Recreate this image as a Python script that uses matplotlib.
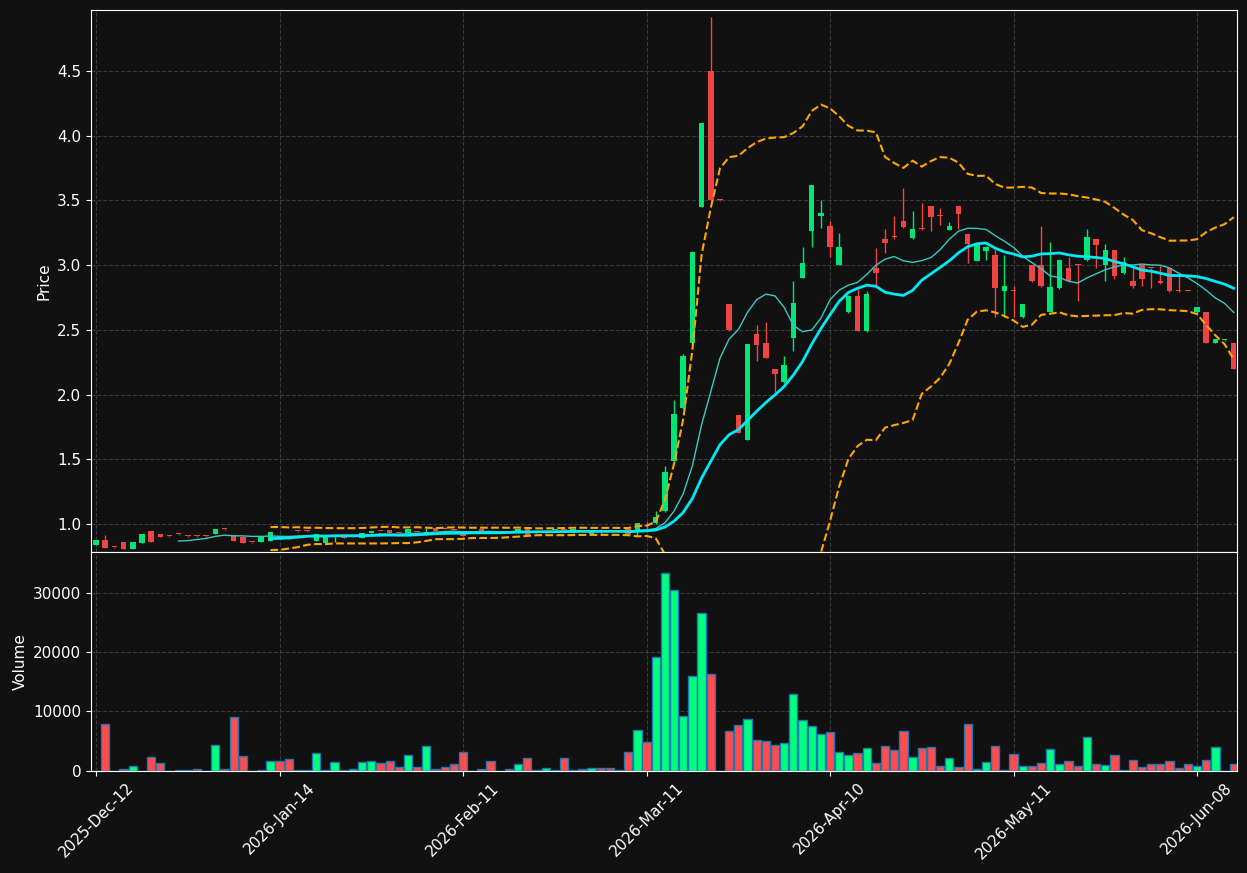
import matplotlib
matplotlib.use('Agg')
import matplotlib.pyplot as plt
import numpy as np
import pandas as pd

# daily OHLCV, one entry per trading bar (index 0..124)
opens = [0.84, 0.876, 0.821, 0.861, 0.807, 0.856, 0.946, 0.923, 0.906, 0.921,
         0.906, 0.906, 0.906, 0.923, 0.96, 0.91, 0.9, 0.859, 0.863, 0.871,
         0.905, 0.9, 0.944, 0.944, 0.871, 0.856, 0.897, 0.896, 0.9, 0.892,
         0.928, 0.947, 0.954, 0.936, 0.928, 0.941, 0.915, 0.97, 0.961, 0.956,
         0.935, 0.94, 0.961, 0.946, 0.94, 0.946, 0.928, 0.961, 0.935, 0.93,
         0.955, 0.963, 0.933, 0.955, 0.925, 0.942, 0.946, 0.94, 0.961, 0.95,
         0.995, 1.008, 1.1, 1.486, 1.9, 2.396, 3.452, 4.503, 3.505, 2.7,
         1.84, 1.65, 2.466, 2.4, 2.2, 2.098, 2.437, 2.9, 3.264, 3.38,
         3.306, 3.0, 2.636, 2.764, 2.495, 2.982, 3.205, 3.22, 3.341, 3.208,
         3.279, 3.456, 3.379, 3.274, 3.456, 3.244, 3.033, 3.11, 3.08, 2.797,
         2.802, 2.597, 3.0, 3.0, 2.641, 2.82, 2.977, 3.002, 3.038, 3.2,
         3.0, 3.115, 2.936, 2.879, 3.003, 2.979, 2.879, 2.982, 2.802, 2.802,
         2.636, 2.641, 2.397, 2.42, 2.4]
highs = [0.88, 0.915, 0.823, 0.862, 0.862, 0.924, 0.947, 0.924, 0.907, 0.922,
         0.907, 0.907, 0.907, 0.962, 0.961, 0.911, 0.901, 0.86, 0.908, 0.94,
         0.91, 0.905, 0.945, 0.945, 0.921, 0.901, 0.91, 0.897, 0.91, 0.932,
         0.947, 0.948, 0.956, 0.937, 0.961, 0.942, 0.97, 0.971, 0.975, 0.957,
         0.936, 0.941, 0.962, 0.947, 0.941, 0.947, 0.962, 0.962, 0.936, 0.94,
         0.956, 0.964, 0.962, 0.956, 0.954, 0.96, 0.947, 0.941, 0.962, 1.005,
         1.012, 1.1, 1.45, 1.955, 2.31, 3.11, 4.1, 4.92, 3.506, 2.702,
         1.842, 2.39, 2.54, 2.56, 2.2, 2.3, 2.878, 3.14, 3.623, 3.504,
         3.34, 3.245, 2.77, 2.815, 2.8, 3.136, 3.282, 3.38, 3.6, 3.418,
         3.477, 3.456, 3.44, 3.33, 3.456, 3.244, 3.162, 3.15, 3.123, 3.077,
         2.84, 2.7, 3.0, 3.303, 3.18, 3.041, 3.064, 3.013, 3.277, 3.2,
         3.16, 3.115, 3.064, 2.98, 3.008, 2.98, 3.0, 2.982, 2.944, 2.803,
         2.68, 2.642, 2.427, 2.421, 2.4]
lows = [0.835, 0.815, 0.817, 0.806, 0.806, 0.855, 0.86, 0.899, 0.903, 0.918,
        0.903, 0.903, 0.903, 0.922, 0.957, 0.87, 0.855, 0.856, 0.862, 0.87,
        0.89, 0.885, 0.941, 0.941, 0.87, 0.855, 0.86, 0.893, 0.898, 0.891,
        0.927, 0.944, 0.927, 0.933, 0.927, 0.938, 0.912, 0.944, 0.958, 0.953,
        0.909, 0.938, 0.944, 0.939, 0.938, 0.939, 0.927, 0.914, 0.933, 0.928,
        0.953, 0.954, 0.932, 0.944, 0.924, 0.915, 0.939, 0.938, 0.922, 0.91,
        0.96, 1.0, 1.09, 1.48, 1.89, 2.39, 3.45, 3.5, 3.499, 2.495,
        1.704, 1.648, 2.258, 2.28, 2.02, 2.09, 2.34, 2.9, 3.14, 3.284,
        3.066, 3.0, 2.63, 2.49, 2.48, 2.84, 3.097, 3.2, 3.29, 3.2,
        3.27, 3.264, 3.31, 3.27, 3.277, 3.015, 3.03, 3.04, 2.6, 2.597,
        2.6, 2.59, 2.87, 2.83, 2.64, 2.815, 2.87, 2.726, 3.03, 2.977,
        2.88, 2.895, 2.93, 2.82, 2.836, 2.826, 2.858, 2.795, 2.795, 2.797,
        2.63, 2.395, 2.395, 2.418, 2.195]
closes = [0.876, 0.817, 0.819, 0.807, 0.861, 0.923, 0.861, 0.9, 0.905, 0.92,
          0.905, 0.905, 0.905, 0.961, 0.959, 0.871, 0.856, 0.858, 0.907, 0.94,
          0.895, 0.89, 0.943, 0.943, 0.92, 0.9, 0.903, 0.895, 0.906, 0.931,
          0.946, 0.946, 0.928, 0.934, 0.96, 0.939, 0.936, 0.945, 0.959, 0.954,
          0.91, 0.94, 0.945, 0.94, 0.94, 0.94, 0.961, 0.915, 0.935, 0.937,
          0.955, 0.955, 0.961, 0.945, 0.953, 0.94, 0.94, 0.94, 0.923, 1.005,
          0.985, 1.058, 1.403, 1.852, 2.3, 3.104, 4.1, 3.5, 3.5, 2.497,
          1.706, 2.39, 2.383, 2.285, 2.16, 2.225, 2.705, 3.016, 3.623, 3.4,
          3.14, 3.14, 2.764, 2.495, 2.777, 2.936, 3.174, 3.218, 3.295, 3.277,
          3.277, 3.374, 3.377, 3.3, 3.397, 3.162, 3.162, 3.141, 2.82, 2.841,
          2.8, 2.7, 2.874, 2.836, 2.828, 3.041, 2.88, 3.0, 3.218, 3.156,
          3.115, 2.918, 3.023, 2.836, 2.897, 2.977, 2.859, 2.797, 2.8, 2.8,
          2.679, 2.397, 2.426, 2.42, 2.195]
volumes = [0, 7900, 0, 280, 790, 0, 2320, 1190, 0, 100,
           100, 280, 0, 4350, 280, 8980, 2490, 0, 100, 1640,
           1640, 1980, 100, 100, 2990, 100, 1470, 100, 280, 1470,
           1640, 1300, 1640, 620, 2660, 620, 4180, 280, 620, 1130,
           3160, 0, 280, 1640, 0, 280, 1130, 2150, 100, 450,
           100, 2150, 100, 280, 450, 450, 450, 100, 3160, 6890,
           4860, 19270, 33330, 30450, 9270, 16050, 26560, 16390, 0, 6720,
           7740, 8760, 5200, 5030, 4350, 4690, 13000, 8590, 7570, 6220,
           6550, 3160, 2660, 2990, 3840, 1300, 4180, 3500, 6720, 2260,
           3840, 4010, 790, 2090, 570, 7910, 280, 1470, 4180, 100,
           2830, 730, 730, 1300, 3670, 1130, 1640, 730, 5710, 1130,
           900, 2660, 100, 1810, 570, 1130, 1130, 1640, 450, 1130,
           790, 1810, 4010, 0, 1130]

tick_pos = [0, 20, 40, 60, 80, 100, 120]
tick_labels = ['2025-Dec-12', '2026-Jan-14', '2026-Feb-11', '2026-Mar-11',
               '2026-Apr-10', '2026-May-11', '2026-Jun-08']

BG = '#111111'
UP, DOWN = '#00e676', '#ef4444'
VUP, VDOWN = '#00ff7f', '#ff4d4d'

df = pd.DataFrame({'Open': opens, 'High': highs, 'Low': lows,
                   'Close': closes, 'Volume': volumes})
x = np.arange(len(df))
ma10 = df['Close'].rolling(10).mean()
ma20 = df['Close'].rolling(20).mean()
sd20 = df['Close'].rolling(20).std()
upper = ma20 + 2 * sd20
lower = ma20 - 2 * sd20

up = df['Close'] >= df['Open']

fig = plt.figure(figsize=(12.47, 8.73), dpi=100, facecolor=BG)
ax1 = fig.add_axes([0.073, 0.3677, 0.919, 0.6209])
ax2 = fig.add_axes([0.073, 0.1174, 0.919, 0.2503], sharex=ax1)

for ax in (ax1, ax2):
    ax.set_facecolor(BG)
    for s in ax.spines.values():
        s.set_color('white')
    ax.tick_params(colors='white', labelsize=11)
    ax.grid(True, color='#3a3a3a', linestyle='--', linewidth=0.8)
    ax.set_axisbelow(True)

# candles
body_col = np.where(up, UP, DOWN)
ax1.vlines(x, df['Low'], df['High'], colors=body_col, linewidth=1, zorder=2)
body_h = (df['Close'] - df['Open']).abs().clip(lower=0.008)
body_b = df[['Open', 'Close']].min(axis=1)
ax1.bar(x, body_h, bottom=body_b, width=0.6, color=body_col, zorder=3)

# moving averages and bands
ax1.plot(x, ma10, color='#3cc8c0', linewidth=1, zorder=4)
ax1.plot(x, ma20, color='#00eaf5', linewidth=2, zorder=4)
ax1.plot(x, upper, color='orange', linestyle='--', linewidth=1.5, zorder=4)
ax1.plot(x, lower, color='orange', linestyle='--', linewidth=1.5, zorder=4)

ax1.set_ylim(0.784, 4.972)
ax1.set_yticks(np.arange(1.0, 4.51, 0.5))
ax1.set_yticklabels([f'{v:.1f}' for v in np.arange(1.0, 4.51, 0.5)])
ax1.set_ylabel('Price', color='white', fontsize=11)
ax1.tick_params(axis='x', labelbottom=False, length=0)

# volume
vol_col = np.where(up, VUP, VDOWN)
ax2.bar(x, df['Volume'], width=0.9, color=vol_col, edgecolor='#1f77b4',
        linewidth=1.0, zorder=3)
ax2.set_ylim(0, 36950)
ax2.set_yticks([0, 10000, 20000, 30000])
ax2.set_ylabel('Volume', color='white', fontsize=11)

ax2.set_xlim(-0.55, 124.36)
ax2.set_xticks(tick_pos)
ax2.set_xticklabels(tick_labels, rotation=45, ha='center')

fig.savefig('out.png', dpi=100, facecolor=BG)
